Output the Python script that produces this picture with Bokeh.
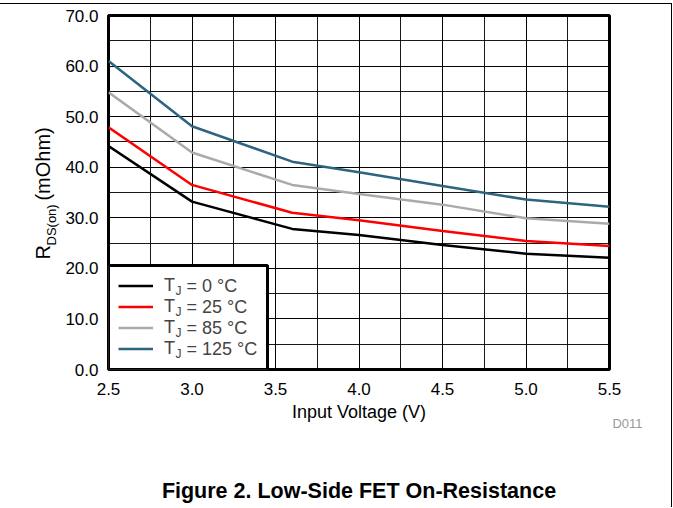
from bokeh.plotting import figure
from bokeh.models import (Legend, LegendItem, Label, Range1d, SingleIntervalTicker,
                          NumeralTickFormatter, Title, BoxAnnotation, LinearAxis, FixedTicker)
from bokeh.embed import file_html
from bokeh.resources import INLINE

# ---- data ----
vin = [2.5, 3.0, 3.6, 4.0, 4.5, 5.0, 5.5]
r_0c = [44.2, 33.2, 27.8, 26.6, 24.6, 22.9, 22.1]
r_25c = [47.9, 36.5, 31.0, 29.5, 27.4, 25.4, 24.4]
r_85c = [54.8, 42.9, 36.5, 34.7, 32.6, 29.9, 28.8]
r_125c = [61.0, 48.1, 41.1, 39.0, 36.3, 33.6, 32.2]
series_names = ["= 0 °C", "= 25 °C", "= 85 °C", "= 125 °C"]
series_colors = ["#000000", "#ff0000", "#aaaaaa", "#2e6480"]
x_ticks = [2.5, 3.0, 3.5, 4.0, 4.5, 5.0, 5.5]
y_ticks = [0, 10, 20, 30, 40, 50, 60, 70]

FONT = "Liberation Sans"
W, H = 672, 504
ML, MR, MT, MB = 108, 63, 11, 139
FW, FH = W - ML - MR, H - MT - MB
X0, X1, Y0, Y1 = x_ticks[0], x_ticks[-1], y_ticks[0], y_ticks[-1]
NBSP = "\u00a0"


def dx(px):
    return X0 + px * (X1 - X0) / FW


def dy(py):
    return Y0 + py * (Y1 - Y0) / FH


p = figure(width=W, height=H, output_backend="svg", toolbar_location=None,
           x_range=Range1d(X0, X1), y_range=Range1d(Y0, Y1),
           min_border_left=ML, min_border_right=MR, min_border_top=MT, min_border_bottom=MB)
p.title.visible = False
p.styles = {"margin-left": "0px", "margin-top": "3px",
            "border-top": "1px solid black", "border-right": "1px solid black"}

p.outline_line_color = "black"
p.outline_line_width = 3

p.xaxis.ticker = SingleIntervalTicker(interval=0.5, num_minor_ticks=2)
p.yaxis.ticker = SingleIntervalTicker(interval=10, num_minor_ticks=2)
p.xaxis.formatter = NumeralTickFormatter(format="0.0")
p.yaxis.formatter = NumeralTickFormatter(format="0.0")


def style_axis(ax):
    ax.axis_line_color = None
    ax.major_tick_out = 0
    ax.major_tick_in = 0
    ax.minor_tick_out = 0
    ax.minor_tick_in = 0
    ax.major_label_text_font = FONT
    ax.major_label_text_font_size = "17px"
    ax.major_label_text_color = "black"
    ax.axis_label_text_font = FONT
    ax.axis_label_text_font_size = "18px"
    ax.axis_label_text_font_style = "normal"
    ax.axis_label_text_color = "black"


for ax in (p.xaxis[0], p.yaxis[0]):
    style_axis(ax)
p.xaxis.major_label_standoff = 13
p.yaxis.major_label_standoff = 10
p.xaxis.axis_label = "Input Voltage (V)"
p.xaxis.axis_label_standoff = 4

for g in (p.xgrid[0], p.ygrid[0]):
    g.grid_line_color = "black"
    g.grid_line_width = 1
    g.grid_line_alpha = 0.9
    g.minor_grid_line_color = "black"
    g.minor_grid_line_width = 1
    g.minor_grid_line_alpha = 0.9

# white legend box (under the lines, above the grid)
p.add_layout(BoxAnnotation(left=X0, right=dx(159), bottom=Y0, top=dy(104), level="underlay",
                           fill_color="white", fill_alpha=1.0, line_color="black",
                           line_width=3, line_alpha=1.0))

renderers = []
for ys, c in zip([r_0c, r_25c, r_85c, r_125c], series_colors):
    renderers.append(p.line(vin, ys, line_color=c, line_width=2.5))

legend = Legend(items=[LegendItem(label="T", renderers=[r]) for r in renderers],
                location="bottom_left", margin=0, padding=10, spacing=0,
                glyph_width=35, glyph_height=21, label_height=21, label_width=88,
                label_standoff=11, label_text_font=FONT, label_text_font_size="18px",
                border_line_alpha=0.0, background_fill_alpha=0.0)
p.add_layout(legend, "center")

# legend subscripts and remaining label text
for i, name in enumerate(series_names):
    row = 10 + 10.5 + (3 - i) * 21
    p.add_layout(Label(x=dx(67), y=dy(row - 5), text="J",
                       text_font=FONT, text_font_size="12px", text_baseline="middle"))
    p.add_layout(Label(x=dx(78), y=dy(row), text=name,
                       text_font=FONT, text_font_size="18px", text_baseline="middle"))

# y axis label: R_DS(on) (mOhm), built from two left-side titles
p.add_layout(Title(text="DS(on)", align="left", offset=124, vertical_align="top", standoff=4,
                   text_font=FONT, text_font_size="13px", text_font_style="normal",
                   text_color="black"), "left")
p.add_layout(Title(text="R" + NBSP * 8 + "(mOhm)", align="left", offset=110,
                   vertical_align="bottom", standoff=-25,
                   text_font=FONT, text_font_size="20px", text_font_style="normal",
                   text_color="black"), "left")

# figure id (zero-height title tucked next to the axis label)
p.add_layout(Title(text="D011", align="right", offset=-33, vertical_align="top",
                   standoff=-17, text_font=FONT, text_font_size="13px",
                   text_color="#999999", text_font_style="normal"), "below")

# caption as the label of a tick-less second x axis
cap_axis = LinearAxis(ticker=FixedTicker(ticks=[]))
style_axis(cap_axis)
cap_axis.axis_label = "Figure 2. Low-Side FET On-Resistance"
cap_axis.axis_label_text_font_size = "21.5px"
cap_axis.axis_label_text_font_style = "bold"
cap_axis.axis_label_standoff = 54
cap_axis.major_label_standoff = 0
p.add_layout(cap_axis, "below")

open("out.html", "w").write(file_html(p, INLINE))
